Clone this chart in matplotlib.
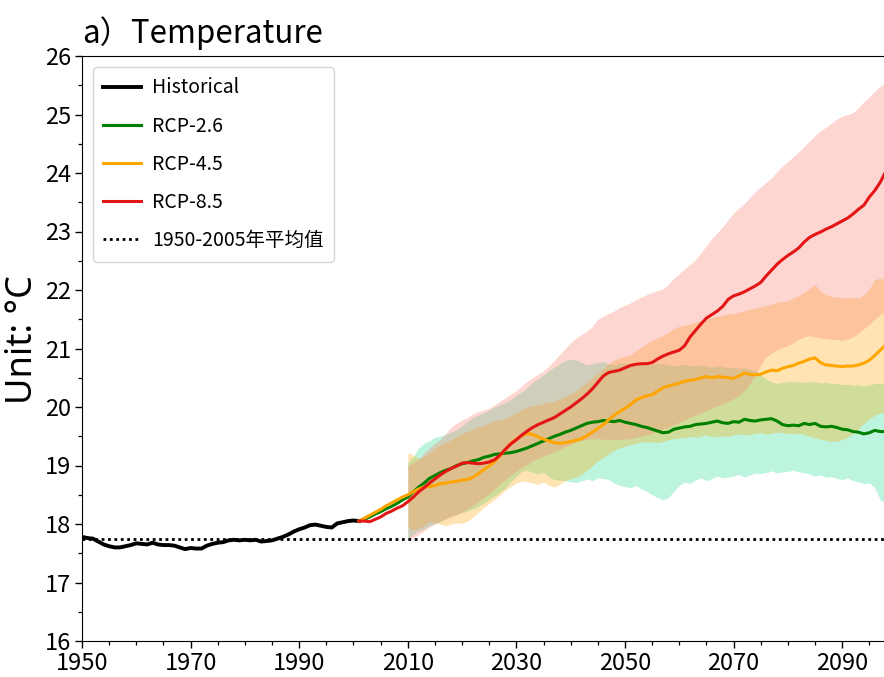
import numpy as np
import matplotlib
matplotlib.use("Agg")
import matplotlib.pyplot as plt
from matplotlib.ticker import MultipleLocator

plt.rcParams['font.family'] = ['Noto Sans CJK SC', 'DejaVu Sans']

# ---- data -------------------------------------------------------------
hist_years = np.arange(1950, 2002)
hist_temp = [
    17.78, 17.76, 17.75, 17.70, 17.65, 17.62, 17.60, 17.60, 17.62, 17.64,
    17.67, 17.66, 17.65, 17.68, 17.65, 17.64, 17.64, 17.63, 17.60, 17.57,
    17.59, 17.58, 17.58, 17.63, 17.66, 17.68, 17.69, 17.72, 17.73, 17.72,
    17.73, 17.72, 17.73, 17.70, 17.71, 17.72, 17.75, 17.78, 17.82, 17.87,
    17.91, 17.94, 17.98, 17.99, 17.97, 17.95, 17.94, 18.01, 18.03, 18.05,
    18.06, 18.05,
]

proj_years = np.arange(2001, 2099)
rcp26 = [
    18.05, 18.08, 18.12, 18.17, 18.21, 18.26, 18.30, 18.35, 18.41, 18.46,
    18.55, 18.63, 18.70, 18.78, 18.83, 18.88, 18.92, 18.95, 19.00, 19.03,
    19.05, 19.08, 19.10, 19.14, 19.16, 19.19, 19.20, 19.21, 19.22, 19.24,
    19.27, 19.30, 19.34, 19.38, 19.42, 19.46, 19.50, 19.53, 19.57, 19.60,
    19.64, 19.68, 19.72, 19.74, 19.75, 19.77, 19.76, 19.75, 19.77, 19.74,
    19.72, 19.70, 19.67, 19.65, 19.62, 19.59, 19.56, 19.57, 19.62, 19.64,
    19.66, 19.67, 19.70, 19.71, 19.72, 19.74, 19.76, 19.73, 19.72, 19.75,
    19.74, 19.79, 19.77, 19.76, 19.78, 19.79, 19.80, 19.76, 19.70, 19.68,
    19.69, 19.68, 19.72, 19.70, 19.72, 19.67, 19.66, 19.67, 19.65, 19.62,
    19.61, 19.58, 19.57, 19.54, 19.56, 19.60, 19.58, 19.58,
]
rcp45 = [
    18.05, 18.10, 18.15, 18.20, 18.25, 18.31, 18.36, 18.41, 18.46, 18.50,
    18.55, 18.60, 18.63, 18.64, 18.66, 18.69, 18.70, 18.72, 18.73, 18.75,
    18.76, 18.80, 18.86, 18.93, 18.99, 19.07, 19.17, 19.28, 19.38, 19.45,
    19.51, 19.55, 19.53, 19.49, 19.45, 19.42, 19.39, 19.38, 19.39, 19.41,
    19.43, 19.46, 19.51, 19.57, 19.63, 19.70, 19.78, 19.86, 19.92, 19.98,
    20.04, 20.12, 20.16, 20.19, 20.21, 20.27, 20.33, 20.36, 20.38, 20.41,
    20.44, 20.46, 20.47, 20.50, 20.52, 20.50, 20.52, 20.51, 20.50, 20.49,
    20.53, 20.58, 20.56, 20.55, 20.56, 20.60, 20.63, 20.62, 20.66, 20.69,
    20.71, 20.75, 20.78, 20.82, 20.84, 20.76, 20.72, 20.71, 20.70, 20.69,
    20.70, 20.70, 20.72, 20.75, 20.80, 20.88, 20.97, 21.06,
]
rcp85 = [
    18.05, 18.05, 18.04, 18.08, 18.12, 18.18, 18.22, 18.27, 18.31, 18.38,
    18.46, 18.55, 18.62, 18.70, 18.77, 18.84, 18.90, 18.95, 18.99, 19.04,
    19.05, 19.04, 19.03, 19.04, 19.06, 19.10, 19.18, 19.28, 19.37, 19.44,
    19.52, 19.59, 19.65, 19.70, 19.74, 19.78, 19.82, 19.88, 19.94, 20.00,
    20.07, 20.14, 20.22, 20.31, 20.42, 20.53, 20.59, 20.61, 20.63, 20.67,
    20.71, 20.73, 20.74, 20.74, 20.76, 20.82, 20.87, 20.91, 20.94, 20.97,
    21.05, 21.20, 21.31, 21.42, 21.52, 21.58, 21.64, 21.72, 21.84, 21.90,
    21.93, 21.97, 22.02, 22.07, 22.13, 22.24, 22.34, 22.44, 22.52, 22.59,
    22.65, 22.72, 22.82, 22.90, 22.95, 22.99, 23.04, 23.08, 23.13, 23.18,
    23.23, 23.30, 23.38, 23.45, 23.59, 23.70, 23.84, 24.02,
]

# model spread (ensemble min / max)
band_years = np.arange(2010, 2099)
rcp26_lo = [
    17.75, 17.82, 17.88, 17.92, 17.97, 18.01, 18.04, 18.10, 18.14, 18.17,
    18.20, 18.22, 18.26, 18.30, 18.36, 18.42, 18.48, 18.55, 18.62, 18.72,
    18.82, 18.90, 18.92, 18.88, 18.86, 18.89, 18.80, 18.76, 18.75, 18.74,
    18.72, 18.71, 18.74, 18.77, 18.74, 18.79, 18.78, 18.76, 18.70, 18.66,
    18.64, 18.62, 18.66, 18.60, 18.56, 18.50, 18.45, 18.41, 18.45, 18.56,
    18.66, 18.72, 18.69, 18.75, 18.79, 18.74, 18.78, 18.82, 18.79, 18.80,
    18.82, 18.85, 18.80, 18.84, 18.87, 18.86, 18.88, 18.91, 18.87, 18.89,
    18.90, 18.92, 18.89, 18.88, 18.85, 18.82, 18.84, 18.80, 18.81, 18.78,
    18.76, 18.79, 18.74, 18.72, 18.69, 18.70, 18.62, 18.41, 18.38,
]
rcp26_hi = [
    19.05, 19.15, 19.30, 19.38, 19.42, 19.48, 19.50, 19.53, 19.57, 19.61,
    19.68, 19.75, 19.82, 19.86, 19.90, 19.95, 20.00, 20.04, 20.08, 20.13,
    20.20, 20.26, 20.33, 20.42, 20.48, 20.55, 20.62, 20.68, 20.74, 20.79,
    20.82, 20.80, 20.76, 20.72, 20.74, 20.76, 20.78, 20.74, 20.72, 20.75,
    20.76, 20.72, 20.74, 20.75, 20.72, 20.73, 20.75, 20.74, 20.72, 20.70,
    20.72, 20.73, 20.70, 20.71, 20.72, 20.70, 20.68, 20.70, 20.69, 20.67,
    20.68, 20.66, 20.67, 20.64, 20.62, 20.55, 20.48, 20.43, 20.40, 20.42,
    20.43, 20.44, 20.43, 20.42, 20.44, 20.43, 20.41, 20.42, 20.40, 20.41,
    20.38, 20.39, 20.37, 20.38, 20.36, 20.38, 20.40, 20.41, 20.40,
]
rcp45_lo = [
    17.95, 17.90, 17.92, 17.98, 18.05, 18.02, 18.00, 17.97, 18.00, 18.02,
    18.01, 18.05, 18.12, 18.20, 18.28, 18.35, 18.42, 18.50, 18.58, 18.64,
    18.70, 18.74, 18.72, 18.70, 18.68, 18.72, 18.66, 18.63, 18.68, 18.74,
    18.78, 18.80, 18.85, 18.92, 19.00, 19.08, 19.14, 19.20, 19.26, 19.30,
    19.33, 19.36, 19.38, 19.40, 19.41, 19.40, 19.39, 19.41, 19.44, 19.46,
    19.47, 19.48, 19.50, 19.48, 19.50, 19.52, 19.49, 19.50, 19.51, 19.50,
    19.52, 19.54, 19.52, 19.53, 19.55, 19.56, 19.54, 19.55, 19.57, 19.56,
    19.55, 19.54, 19.55, 19.53, 19.50, 19.47, 19.45, 19.43, 19.41, 19.42,
    19.44, 19.48, 19.55, 19.63, 19.72, 19.80, 19.86, 19.90, 19.92,
]
rcp45_hi = [
    19.22, 19.18, 19.12, 19.15, 19.22, 19.30, 19.36, 19.40, 19.44, 19.50,
    19.55, 19.58, 19.62, 19.66, 19.68, 19.73, 19.76, 19.78, 19.80, 19.85,
    19.90, 19.96, 20.00, 20.02, 20.04, 20.06, 20.08, 20.10, 20.14, 20.18,
    20.22, 20.28, 20.35, 20.42, 20.50, 20.58, 20.66, 20.74, 20.80, 20.84,
    20.87, 20.89, 20.96, 21.02, 21.08, 21.14, 21.18, 21.22, 21.28, 21.34,
    21.38, 21.40, 21.42, 21.45, 21.48, 21.50, 21.53, 21.55, 21.57, 21.59,
    21.60, 21.62, 21.65, 21.67, 21.69, 21.71, 21.73, 21.76, 21.79, 21.80,
    21.82, 21.86, 21.90, 21.96, 22.03, 22.09, 21.98, 21.92, 21.89, 21.88,
    21.87, 21.86, 21.88, 21.86, 21.92, 22.02, 22.18, 22.20, 22.17,
]
rcp85_lo = [
    17.72, 17.76, 17.82, 17.88, 17.95, 18.00, 18.05, 18.08, 18.12, 18.16,
    18.20, 18.26, 18.32, 18.38, 18.45, 18.52, 18.60, 18.68, 18.76, 18.84,
    18.90, 18.96, 19.02, 19.08, 19.12, 19.16, 19.20, 19.24, 19.28, 19.32,
    19.36, 19.40, 19.43, 19.45, 19.46, 19.46, 19.45, 19.44, 19.45, 19.44,
    19.45, 19.46, 19.48, 19.50, 19.52, 19.55, 19.58, 19.62, 19.66, 19.70,
    19.74, 19.78, 19.82, 19.86, 19.90, 19.94, 19.98, 20.02, 20.06, 20.10,
    20.14, 20.20, 20.28, 20.40, 20.55, 20.72, 20.86, 20.92, 20.98, 21.02,
    21.05, 21.10, 21.16, 21.20, 21.22, 21.20, 21.18, 21.17, 21.16, 21.15,
    21.14, 21.16, 21.20, 21.26, 21.34, 21.42, 21.50, 21.58, 21.64,
]
rcp85_hi = [
    19.00, 19.05, 19.10, 19.22, 19.30, 19.38, 19.45, 19.55, 19.66, 19.72,
    19.78, 19.82, 19.88, 19.92, 19.95, 19.98, 20.04, 20.10, 20.16, 20.22,
    20.28, 20.36, 20.44, 20.50, 20.56, 20.62, 20.70, 20.80, 20.90, 21.00,
    21.10, 21.18, 21.24, 21.30, 21.38, 21.50, 21.55, 21.60, 21.64, 21.70,
    21.74, 21.78, 21.83, 21.88, 21.92, 21.96, 21.99, 22.02, 22.10, 22.20,
    22.28, 22.36, 22.44, 22.52, 22.64, 22.76, 22.88, 22.98, 23.08, 23.20,
    23.32, 23.40, 23.48, 23.58, 23.68, 23.76, 23.84, 23.92, 24.02, 24.12,
    24.20, 24.28, 24.36, 24.46, 24.55, 24.64, 24.72, 24.78, 24.85, 24.92,
    24.97, 25.00, 25.03, 25.12, 25.22, 25.30, 25.40, 25.48, 25.55,
]

baseline = 17.74   # 1950-2005 mean

x_ticks = [1950, 1970, 1990, 2010, 2030, 2050, 2070, 2090]

# ---- figure -----------------------------------------------------------
W, H = 884, 677
fig = plt.figure(figsize=(W / 100, H / 100), dpi=100)
ax = fig.add_axes([82 / W, 1 - 641 / H, 1 - 82 / W, (641 - 56) / H])

# ensemble spread
ax.fill_between(band_years, rcp26_lo, rcp26_hi, color='#40E0A0', alpha=0.35, lw=0)
ax.fill_between(band_years, rcp45_lo, rcp45_hi, color='#FFA500', alpha=0.30, lw=0)
ax.fill_between(band_years, rcp85_lo, rcp85_hi, color='salmon', alpha=0.32, lw=0)

# ensemble means
ax.plot(hist_years, hist_temp, color='black', lw=2.8, label='Historical', zorder=5)
ax.plot(proj_years, rcp26, color='#008000', lw=2.2, label='RCP-2.6', zorder=5)
ax.plot(proj_years, rcp45, color='#FFA500', lw=2.2, label='RCP-4.5', zorder=5)
ax.plot(proj_years, rcp85, color='#E31515', lw=2.2, label='RCP-8.5', zorder=6)
ax.axhline(baseline, color='black', lw=2.0, dashes=(1, 1.3),
           label='1950-2005年平均值', zorder=4)

ax.set_xlim(1950, 2097.7)
ax.set_ylim(16, 26)
ax.set_xticks(x_ticks)
ax.xaxis.set_minor_locator(MultipleLocator(5))
ax.yaxis.set_major_locator(MultipleLocator(1))
ax.yaxis.set_minor_locator(MultipleLocator(0.5))
ax.tick_params(which='major', length=4.8, width=1.0, labelsize=17, pad=3)
ax.tick_params(which='minor', length=2.9, width=0.9)
ax.spines['right'].set_visible(False)

ax.set_title('a）Temperature', loc='left', fontsize=22.5, pad=9)
ax.set_ylabel('Unit: °C', fontsize=26, family=['Noto Sans', 'DejaVu Sans'])
ax.yaxis.set_label_coords(-0.051, 0.516)

ax.legend(loc='upper left', fontsize=14, handlelength=1.95, handletextpad=0.55,
          labelspacing=0.88, borderpad=0.55, borderaxespad=0.55)

fig.savefig('out.png', dpi=100)
